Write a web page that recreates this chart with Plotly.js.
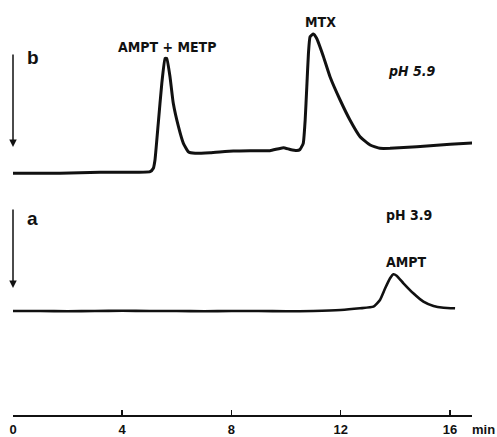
<!DOCTYPE html>
<html>
<head>
<meta charset="utf-8">
<script src="https://cdn.plot.ly/plotly-3.0.1.min.js"></script>
<style>html,body{margin:0;padding:0;background:#fff}#chart{width:497px;height:437px}</style>
</head>
<body>
<div id="chart"></div>
<script>
// Trace b (pH 5.9): time (min) and detector response (arbitrary units)
var timeB = [0.0, 1.72, 3.19, 5.02, 5.14, 5.20, 5.32, 5.45, 5.57, 5.63, 5.75, 5.87, 6.06, 6.24, 6.42, 6.67, 7.22, 8.07, 8.68, 9.41, 9.90, 10.15, 10.39, 10.51, 10.63, 10.70, 10.76, 10.82, 10.88, 11.00, 11.12, 11.37, 11.61, 11.98, 12.34, 12.71, 13.08, 13.44, 13.81, 14.79, 16.01, 16.92];
var respB = [241.7, 241.7, 242.7, 243.3, 246.7, 255, 291.7, 331.7, 356.7, 356.7, 338.3, 311.7, 288.3, 271.7, 263.3, 261.7, 262.3, 264, 264.3, 264.3, 267.3, 265.5, 264.5, 265.5, 271.7, 295, 328.3, 361.7, 378.3, 381, 376.7, 358.3, 338.3, 315, 295, 278.3, 270, 266.7, 266.7, 268.3, 270.7, 272.3];

// Trace a (pH 3.9)
var timeA = [0, 1, 2, 3, 4, 5, 6, 7, 8, 9, 10, 11, 12, 12.71, 13.20, 13.44, 13.63, 13.81, 13.93, 14.05, 14.30, 14.66, 15.03, 15.40, 15.77, 16.19];
var respA = [104, 104, 103.7, 104, 104.3, 104, 104, 103.7, 104, 104, 103.7, 104, 105, 106.7, 108.3, 115, 126.7, 136.7, 140.7, 139.3, 131.7, 121.7, 113.3, 109, 107.3, 106.7];

var tickVals = [0, 4, 8, 12, 16];
var tickText = ['0', '4', '8', '12', '16'];

var ink = '#111';
var lblFont = {family: 'Liberation Sans Narrow, DejaVu Sans Condensed, Liberation Sans, sans-serif', size: 14, color: ink, weight: 'bold'};

var traces = [
  {x: timeB, y: respB, mode: 'lines', line: {color: ink, width: 3, shape: 'spline', smoothing: 0.4}, hoverinfo: 'skip'},
  {x: timeA, y: respA, mode: 'lines', line: {color: ink, width: 2.6, shape: 'spline', smoothing: 0.4}, hoverinfo: 'skip'}
];

var layout = {
  width: 497, height: 437,
  margin: {l: 13, r: 25, t: 0, b: 22},
  paper_bgcolor: '#fff', plot_bgcolor: '#fff',
  showlegend: false,
  xaxis: {
    range: [0, 16.81], showgrid: false, zeroline: false,
    showline: true, linecolor: ink, linewidth: 1.5,
    ticks: 'inside', ticklen: 5, tickwidth: 1.5, tickcolor: ink,
    tickvals: tickVals, ticktext: tickText, ticklabelstandoff: 2,
    tickfont: {family: 'Liberation Sans, Arial, sans-serif', size: 13, color: ink, weight: 'bold'},
    automargin: false, fixedrange: true
  },
  yaxis: {range: [0, 415], visible: false, fixedrange: true},
  annotations: [
    {x: 0, y: 268, xref: 'x', yref: 'y', ax: 0, ay: 362, axref: 'x', ayref: 'y', showarrow: true, arrowhead: 2, arrowsize: 1, arrowwidth: 1.5, arrowcolor: ink, text: ''},
    {x: 0, y: 127, xref: 'x', yref: 'y', ax: 0, ay: 207, axref: 'x', ayref: 'y', showarrow: true, arrowhead: 2, arrowsize: 1, arrowwidth: 1.5, arrowcolor: ink, text: ''},
    {x: 0.73, y: 358, xref: 'x', yref: 'y', text: 'b', showarrow: false, font: {family: 'Liberation Sans, sans-serif', size: 19, color: ink, weight: 'bold'}},
    {x: 0.73, y: 197, xref: 'x', yref: 'y', text: 'a', showarrow: false, font: {family: 'Liberation Sans, sans-serif', size: 19, color: ink, weight: 'bold'}},
    {x: 5.64, y: 368, xref: 'x', yref: 'y', text: 'AMPT + METP', showarrow: false, font: lblFont},
    {x: 11.25, y: 393, xref: 'x', yref: 'y', text: 'MTX', showarrow: false, font: lblFont},
    {x: 14.6, y: 344, xref: 'x', yref: 'y', text: '<i>pH 5.9</i>', showarrow: false, font: lblFont},
    {x: 14.5, y: 200, xref: 'x', yref: 'y', text: 'pH 3.9', showarrow: false, font: lblFont},
    {x: 14.4, y: 153, xref: 'x', yref: 'y', text: 'AMPT', showarrow: false, font: lblFont},
    {x: (483 - 13) / 459, y: -0.036, xref: 'paper', yref: 'paper', xanchor: 'center', yanchor: 'middle', text: 'min', showarrow: false, font: {family: 'Liberation Sans, Arial, sans-serif', size: 13, color: ink, weight: 'bold'}}
  ]
};

Plotly.newPlot('chart', traces, layout, {displayModeBar: false, staticPlot: true});
</script>
</body>
</html>
